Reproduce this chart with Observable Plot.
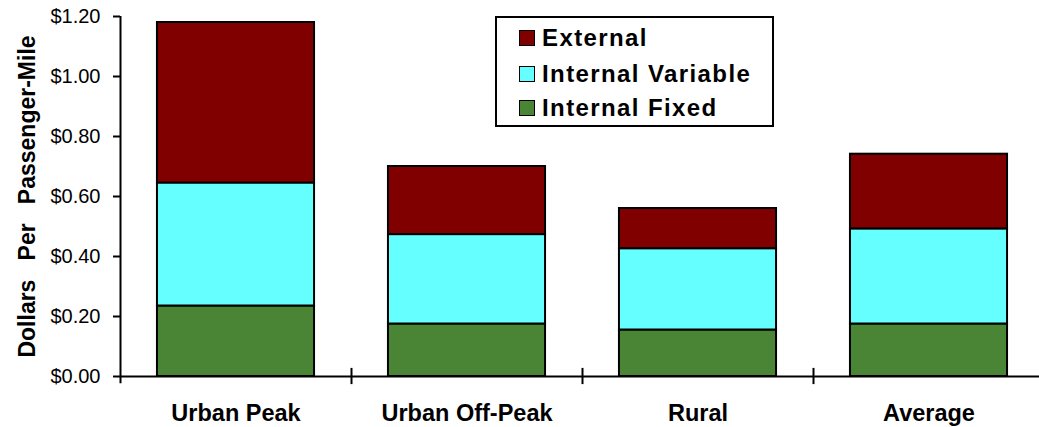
<!DOCTYPE html>
<html>
<head>
<meta charset="utf-8">
<script src="https://cdn.jsdelivr.net/npm/d3@7"></script>
<script src="https://cdn.jsdelivr.net/npm/@observablehq/plot@0.6"></script>
<style>
  html, body { margin: 0; padding: 0; background: #fff; }
  #wrap { position: relative; width: 1039px; height: 427px; font-family: Arial, "Liberation Sans", sans-serif; }
  #legend { position: absolute; left: 495px; top: 16px; width: 275px; height: 107px; border: 2px solid #000; background: #fff; }
  .row { position: absolute; left: 22px; height: 24px; display: flex; align-items: center; white-space: nowrap; }
  .sw { width: 14px; height: 14px; border: 1.5px solid #000; margin-right: 7px; }
  .lt { font-weight: bold; font-size: 24px; letter-spacing: 1.4px; color: #000; }
</style>
</head>
<body>
<div id="wrap"></div>
<script>
// ---- data ----
const categories = ["Urban Peak", "Urban Off-Peak", "Rural", "Average"];
const seriesNames = ["Internal Fixed", "Internal Variable", "External"];
const internalFixed    = [0.235, 0.175, 0.155, 0.175];
const internalVariable = [0.410, 0.298, 0.271, 0.317];
const external         = [0.535, 0.227, 0.134, 0.249];
const seriesColors = ["#4A8535", "#66FFFF", "#800000"];
const yTicks = [0, 0.2, 0.4, 0.6, 0.8, 1.0, 1.2];
const yTitle = "Dollars\u00a0\u00a0 Per\u00a0\u00a0 Passenger-Mile";

const seriesValues = [internalFixed, internalVariable, external];
const rows = [];
seriesNames.forEach((s, si) => {
  categories.forEach((c, ci) => rows.push({category: c, series: s, value: seriesValues[si][ci]}));
});

const width = 1039, height = 427;
const marginLeft = 120, marginTop = 16, marginBottom = 51;
const xRange = [120, 1044];
const paddingInner = 0.32, paddingOuter = 0.16;
const step = (xRange[1] - xRange[0]) / (categories.length - paddingInner + 2 * paddingOuter);

const chart = Plot.plot({
  width, height,
  marginLeft, marginTop, marginBottom, marginRight: 0,
  style: {fontFamily: "Arial, 'Liberation Sans', sans-serif", background: "transparent", color: "#000"},
  x: {domain: categories, range: xRange, paddingInner, paddingOuter, round: false},
  y: {domain: [0, 1.2]},
  color: {domain: seriesNames, range: seriesColors},
  marks: [
    Plot.barY(rows, {x: "category", y: "value", fill: "series", stroke: "#000", strokeWidth: 2, order: seriesNames}),
    Plot.ruleY([0], {stroke: "#000", strokeWidth: 2}),
    Plot.ruleX([categories[0]], {y1: -0.024, y2: 1.2, dx: -step / 2, stroke: "#000", strokeWidth: 2}),
    Plot.ruleX(categories.slice(1), {y1: -0.027, y2: 0.027, dx: -step / 2, stroke: "#000", strokeWidth: 2}),
    Plot.axisY({ticks: yTicks, tickFormat: d3.format("$.2f"), tickSize: 7, tickPadding: 13, fontSize: 20, label: null, strokeWidth: 2}),
    Plot.axisX({tickSize: 0, tickPadding: 28, fontSize: 23.5, fontWeight: "bold", label: null}),
    Plot.text([yTitle], {frameAnchor: "left", textAnchor: "middle", rotate: -90, dx: -93, fontSize: 23, fontWeight: "bold", fill: "#000"})
  ]
});

const wrap = document.getElementById("wrap");
wrap.appendChild(chart);

// legend (top entry = top of stack)
const legend = document.createElement("div");
legend.id = "legend";
const rowTops = [8, 44, 78];
seriesNames.slice().reverse().forEach((name, i) => {
  const color = seriesColors[seriesNames.indexOf(name)];
  const r = document.createElement("div");
  r.className = "row";
  r.style.top = rowTops[i] + "px";
  const sw = document.createElement("div");
  sw.className = "sw";
  sw.style.background = color;
  const t = document.createElement("span");
  t.className = "lt";
  t.textContent = name;
  r.appendChild(sw); r.appendChild(t);
  legend.appendChild(r);
});
wrap.appendChild(legend);
</script>
</body>
</html>
